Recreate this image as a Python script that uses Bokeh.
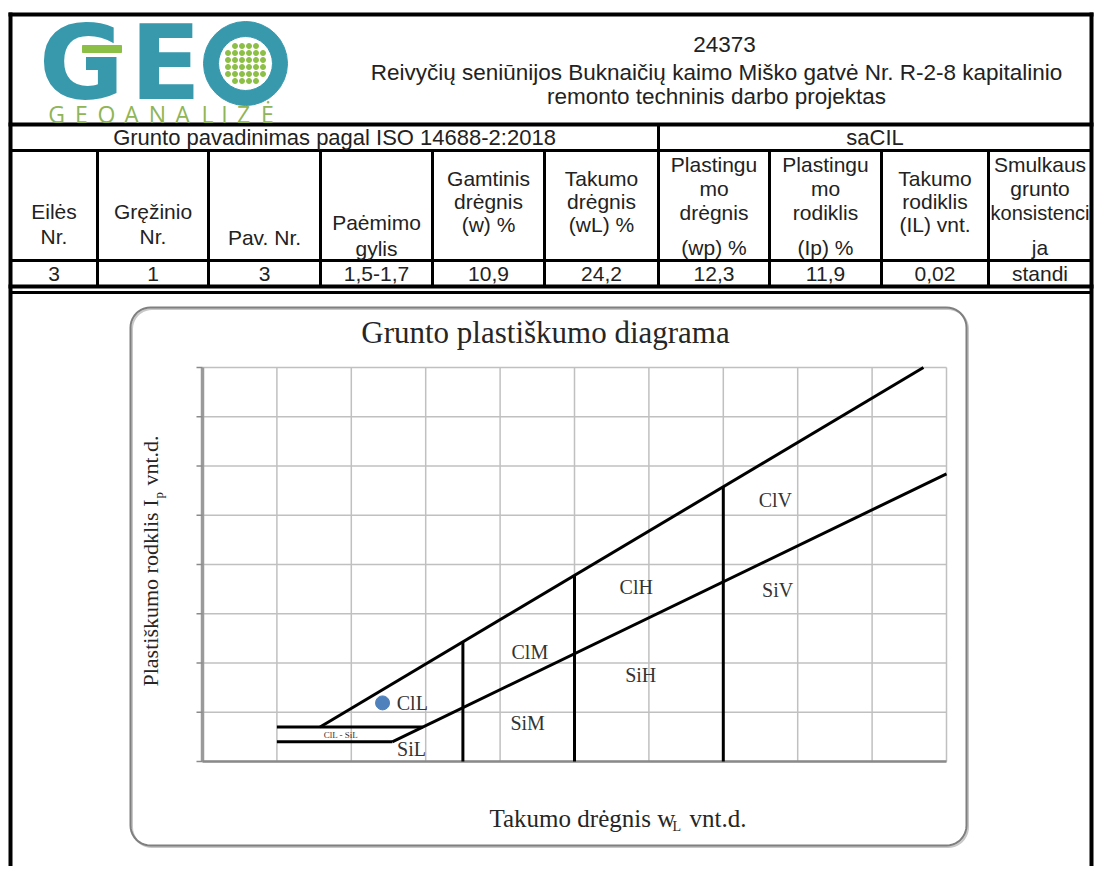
import numpy as np
from bokeh.plotting import figure
from bokeh.models import Range1d
from bokeh.core.properties import value
from bokeh.embed import file_html
from bokeh.resources import INLINE

# ---------------- data ----------------
project_no = "24373"
project_title = ["Reivyčių seniūnijos Buknaičių kaimo Miško gatvė Nr. R-2-8 kapitalinio",
                 "remonto techninis darbo projektas"]
logo_big = ["G", "E"]
logo_small = ["G", "E", "O", "A", "N", "A", "L", "I", "Z", "Ė"]
name_caption = "Grunto pavadinimas pagal ISO 14688-2:2018"
soil_name = "saCIL"
col_headers = [["Eilės", "Nr."], ["Gręžinio", "Nr."], ["Pav. Nr."], ["Paėmimo", "gylis"],
               ["Gamtinis", "drėgnis", "(w) %"], ["Takumo", "drėgnis", "(wL) %"],
               ["Plastingu", "mo", "drėgnis", "(wp) %"], ["Plastingu", "mo", "rodiklis", "(Ip) %"],
               ["Takumo", "rodiklis", "(IL) vnt."], ["Smulkaus", "grunto", "konsistenci", "ja"]]
row_values = ["3", "1", "3", "1,5-1,7", "10,9", "24,2", "12,3", "11,9", "0,02", "standi"]

chart_title = "Grunto plastiškumo diagrama"
x_label = ["Takumo drėgnis w", "L", "vnt.d."]
y_label = ["Plastiškumo rodklis I", "p", "vnt.d."]
wl_ticks = [0.0, 0.1, 0.2, 0.3, 0.4, 0.5, 0.6, 0.7, 0.8, 0.9, 1.0]
ip_ticks = [0.0, 0.1, 0.2, 0.3, 0.4, 0.5, 0.6, 0.7, 0.8]
u_line_wl = [0.158, 0.969]
u_line_ip = [0.07, 0.80]
a_line_wl = [0.255, 1.00]
a_line_ip = [0.04, 0.584]
h_line_ip = [0.07, 0.04]
h_line_wl_from = [0.10, 0.10]
h_line_wl_to = [0.296, 0.255]
v_line_wl = [0.35, 0.50, 0.70]
v_line_ip_top = [0.243, 0.378, 0.558]
sample_wl = [0.242]
sample_ip = [0.119]
zone_names = ["ClL", "ClM", "ClH", "ClV", "SiL", "SiM", "SiH", "SiV"]
zone_wl = [0.282, 0.440, 0.583, 0.770, 0.281, 0.437, 0.589, 0.773]
zone_ip = [0.118, 0.223, 0.355, 0.530, 0.026, 0.079, 0.175, 0.349]
small_zone_name = ["ClL - SiL"]
small_zone_wl = [0.186]
small_zone_ip = [0.053]

# ---------------- layout (picture pixels) ----------------
W, H = 1094, 866

SANS = value("Liberation Sans")
SERIF = value("Liberation Serif")
INK = "#222222"

p = figure(width=W, height=H, x_range=Range1d(0, W), y_range=Range1d(H, 0),
           x_axis_location=None, y_axis_location=None, output_backend="svg",
           toolbar_location=None, min_border=0)
p.outline_line_color = None
p.grid.visible = False
p.background_fill_color = "white"
p.border_fill_color = "white"

# chart scales (wL, Ip) mapped onto the plot area
PA_L, PA_R, PA_T, PA_B = 202, 946, 367, 761
sx = (PA_R - PA_L) / (wl_ticks[-1] - wl_ticks[0])
sy = (PA_B - PA_T) / (ip_ticks[-1] - ip_ticks[0])
wl_start = wl_ticks[0] - PA_L / sx
ip_start = ip_ticks[0] - (H - PA_B) / sy
p.extra_x_ranges = {"wl": Range1d(wl_start, wl_start + W / sx)}
p.extra_y_ranges = {"ip": Range1d(ip_start, ip_start + H / sy)}
C = dict(x_range_name="wl", y_range_name="ip")

# ---------------- page border & table ----------------
col_edges = [10, 97, 208, 320, 432, 544, 658, 769, 881, 988, 1091]
LEFT, RIGHT = col_edges[0], col_edges[-1]
y_top, y_hdr, y_cap, y_head, y_val, y_sec = 14, 124, 150, 260, 286, 292

# thick lines
tx0 = [LEFT, RIGHT, 8, 8, 8]
ty0 = [12, 12, y_top, y_hdr, y_val]
tx1 = [LEFT, RIGHT, RIGHT + 2, RIGHT + 2, RIGHT + 2]
ty1 = [H + 10, H + 10, y_top, y_hdr, y_val]
p.segment(tx0, ty0, tx1, ty1, line_color="black", line_width=4)
# thinner table lines
ix0 = [LEFT, LEFT, LEFT, col_edges[6]] + col_edges[1:-1]
iy0 = [y_cap, y_head, y_sec, y_hdr] + [y_cap] * (len(col_edges) - 2)
ix1 = [RIGHT, RIGHT, RIGHT, col_edges[6]] + col_edges[1:-1]
iy1 = [y_cap, y_head, y_sec, y_cap] + [y_val] * (len(col_edges) - 2)
p.segment(ix0, iy0, ix1, iy1, line_color="black", line_width=3)

# header texts
p.text(x=[724, 716, 716], y=[44, 72, 96], text=[project_no] + project_title,
       text_font=SANS, text_font_size="22.5px", text_align="center", text_baseline="middle",
       text_color=INK)
p.text(x=[(LEFT + col_edges[6]) / 2, (col_edges[6] + RIGHT) / 2], y=[137, 137],
       text=[name_caption, soil_name], text_font=SANS, text_font_size="22px",
       text_align="center", text_baseline="middle", text_color=INK)

hdr_y = [[211, 236], [211, 236], [237], [222, 248], [178, 201, 224], [178, 201, 224],
         [164, 188, 212, 247], [164, 188, 212, 247], [178, 201, 224], [164, 188, 212, 247]]
centers = [(a + b) / 2 for a, b in zip(col_edges[:-1], col_edges[1:])]
hx, hy, ht, hs = [], [], [], []
for cx, lines, ys in zip(centers, col_headers, hdr_y):
    for t, yy in zip(lines, ys):
        hx.append(cx)
        hy.append(yy)
        ht.append(t)
        hs.append("20px" if len(t) > 9 else "21px")
p.text(x=hx, y=hy, text=ht, text_font=SANS, text_font_size=hs,
       text_align="center", text_baseline="middle", text_color=INK)
p.text(x=centers, y=[273] * len(centers), text=row_values, text_font=SANS,
       text_font_size="21px", text_align="center", text_baseline="middle", text_color=INK)

# ---------------- logo ----------------
TEAL = "#3899ad"
GREEN = "#8cbf45"
p.text(x=[81, 165], y=[62, 62], text=logo_big, text_font=value("DejaVu Sans"),
       text_font_style="bold", text_font_size="104px", text_align="center",
       text_baseline="middle", text_color=TEAL)
p.quad(left=[82], right=[121], top=[45], bottom=[52], color=GREEN)
p.annulus(x=[245], y=[63], inner_radius=27, outer_radius=42, color=TEAL)
d = [-17.5, -10.5, -3.5, 3.5, 10.5, 17.5]
dx = [245 + a for a in d for b in d if a * a + b * b <= 21.5 ** 2]
dy = [63 + b for a in d for b in d if a * a + b * b <= 21.5 ** 2]
p.scatter(dx, dy, size=5, color=GREEN)
small_x = [56, 81, 106, 131, 157, 182, 207, 224, 243, 267]
p.text(x=small_x, y=[113] * len(small_x), text=logo_small, text_font=value("Open Sans"),
       text_font_size="23px", text_align="center", text_baseline="middle", text_color="#8fb556")

# ---------------- chart frame ----------------
def rounded(x0, y0, x1, y1, r, n=10):
    xs, ys = [], []
    for cx, cy, a0 in [(x1 - r, y0 + r, -90), (x1 - r, y1 - r, 0), (x0 + r, y1 - r, 90), (x0 + r, y0 + r, 180)]:
        for k in range(n + 1):
            a = np.radians(a0 + 90 * k / n)
            xs.append(cx + r * np.cos(a))
            ys.append(cy + r * np.sin(a))
    xs.append(xs[0])
    ys.append(ys[0])
    return xs, ys


fx, fy = rounded(130, 307, 966, 845, 20)
p.line([v + 1.5 for v in fx], [v + 1.5 for v in fy], line_color="#c8c8c8", line_width=2)
p.line(fx, fy, line_color="#7f7f7f", line_width=2)

p.text(x=[545], y=[332], text=[chart_title], text_font=SERIF, text_font_size="31px",
       text_align="center", text_baseline="middle", text_color="#262626")
# axis titles with subscripts
p.text(x=[489, 672, 689], y=[818, 826, 818], text=x_label, text_font=SERIF,
       text_font_size=["25px", "14px", "25px"], text_align="left", text_baseline="middle",
       text_color="#262626")
p.text(x=[150, 158, 150], y=[686, 498, 485], text=y_label, text_font=SERIF,
       text_font_size=["22px", "13px", "22px"], text_align="left", text_baseline="middle",
       angle=np.pi / 2, text_color="#262626")

# ---------------- plasticity chart ----------------
GRID = "#c0c0c0"
p.segment(x0=wl_ticks, y0=[ip_ticks[0]] * len(wl_ticks), x1=wl_ticks, y1=[ip_ticks[-1]] * len(wl_ticks),
          line_color=GRID, line_width=1.5, **C)
p.segment(x0=[wl_ticks[0]] * len(ip_ticks), y0=ip_ticks, x1=[wl_ticks[-1]] * len(ip_ticks), y1=ip_ticks,
          line_color=GRID, line_width=1.5, **C)
# axes
p.segment(x0=[wl_ticks[0]], y0=[ip_ticks[0]], x1=[wl_ticks[0]], y1=[ip_ticks[-1]],
          line_color="#9a9a9a", line_width=3.5, **C)
p.segment(x0=[wl_ticks[0]], y0=[ip_ticks[0]], x1=[wl_ticks[-1]], y1=[ip_ticks[0]],
          line_color="#8a8a8a", line_width=2.5, **C)
p.ray(x=[wl_ticks[0]] * len(ip_ticks), y=ip_ticks, length=6, length_units="screen",
      angle=np.pi, line_color="#8a8a8a", line_width=1.5, **C)

LINE = "black"
p.line(u_line_wl, u_line_ip, line_color=LINE, line_width=3, **C)
p.line(a_line_wl, a_line_ip, line_color=LINE, line_width=3, **C)
p.segment(x0=h_line_wl_from, y0=h_line_ip, x1=h_line_wl_to, y1=h_line_ip,
          line_color=LINE, line_width=3, **C)
p.segment(x0=v_line_wl, y0=[ip_ticks[0]] * len(v_line_wl), x1=v_line_wl, y1=v_line_ip_top,
          line_color=LINE, line_width=3, **C)

p.scatter(sample_wl, sample_ip, size=14, color="#4f81bd", **C)

p.text(x=zone_wl, y=zone_ip, text=zone_names, text_font=SERIF, text_font_size="20px",
       text_align="center", text_baseline="middle", text_color="#333333", **C)
p.text(x=small_zone_wl, y=small_zone_ip, text=small_zone_name, text_font=SERIF,
       text_font_size="9px", text_align="center", text_baseline="middle", text_color="#333333", **C)

open("out.html", "w").write(file_html(p, INLINE))
